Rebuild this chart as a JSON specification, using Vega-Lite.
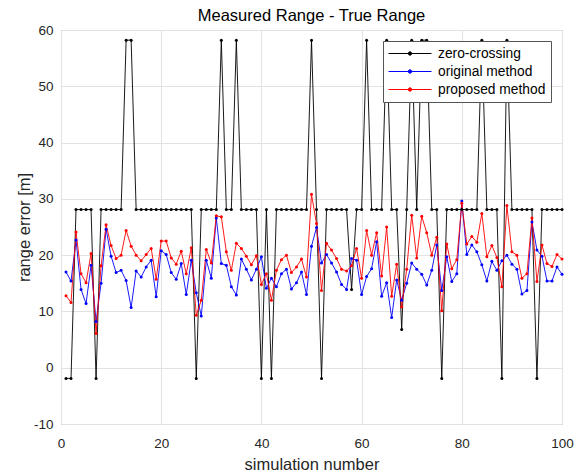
{
"$schema": "https://vega.github.io/schema/vega-lite/v6.json",
"width": 501, "height": 394,
"autosize": {"type": "none"},
"padding": {"left": 61, "top": 30, "right": 25, "bottom": 48},
"background": "white",
"title": {"text": "Measured Range - True Range", "fontSize": 16.5, "font": "Liberation Sans", "fontWeight": "normal", "color": "#000000", "offset": -1, "anchor": "middle"},
"config": {
  "font": "Liberation Sans",
  "view": {"stroke": "#868686", "strokeWidth": 1},
  "axis": {"domain": false, "ticks": false, "grid": true, "gridColor": "#e2e2e2", "gridWidth": 1, "labelFontSize": 13.5, "labelColor": "#262626", "labelFont": "Liberation Sans", "titleFont": "Liberation Sans", "titleFontSize": 16.5, "titleFontWeight": "normal", "titleColor": "#262626", "labelPadding": 8, "labelFlush": false, "labelOverlap": false, "labelBound": false, "labelExpr": "'' + datum.value"}
},
"datasets": {"rows": [
{"sim":1,"method":"zero-crossing","error":-1.9},{"sim":2,"method":"zero-crossing","error":-1.9},{"sim":3,"method":"zero-crossing","error":28.1},{"sim":4,"method":"zero-crossing","error":28.1},{"sim":5,"method":"zero-crossing","error":28.1},{"sim":6,"method":"zero-crossing","error":28.1},{"sim":7,"method":"zero-crossing","error":-1.9},{"sim":8,"method":"zero-crossing","error":28.1},{"sim":9,"method":"zero-crossing","error":28.1},{"sim":10,"method":"zero-crossing","error":28.1},
{"sim":11,"method":"zero-crossing","error":28.1},{"sim":12,"method":"zero-crossing","error":28.1},{"sim":13,"method":"zero-crossing","error":58.2},{"sim":14,"method":"zero-crossing","error":58.2},{"sim":15,"method":"zero-crossing","error":28.1},{"sim":16,"method":"zero-crossing","error":28.1},{"sim":17,"method":"zero-crossing","error":28.1},{"sim":18,"method":"zero-crossing","error":28.1},{"sim":19,"method":"zero-crossing","error":28.1},{"sim":20,"method":"zero-crossing","error":28.1},
{"sim":21,"method":"zero-crossing","error":28.1},{"sim":22,"method":"zero-crossing","error":28.1},{"sim":23,"method":"zero-crossing","error":28.1},{"sim":24,"method":"zero-crossing","error":28.1},{"sim":25,"method":"zero-crossing","error":28.1},{"sim":26,"method":"zero-crossing","error":28.1},{"sim":27,"method":"zero-crossing","error":-1.9},{"sim":28,"method":"zero-crossing","error":28.1},{"sim":29,"method":"zero-crossing","error":28.1},{"sim":30,"method":"zero-crossing","error":28.1},
{"sim":31,"method":"zero-crossing","error":28.1},{"sim":32,"method":"zero-crossing","error":58.2},{"sim":33,"method":"zero-crossing","error":28.1},{"sim":34,"method":"zero-crossing","error":28.1},{"sim":35,"method":"zero-crossing","error":58.2},{"sim":36,"method":"zero-crossing","error":28.1},{"sim":37,"method":"zero-crossing","error":28.1},{"sim":38,"method":"zero-crossing","error":28.1},{"sim":39,"method":"zero-crossing","error":28.1},{"sim":40,"method":"zero-crossing","error":-1.9},
{"sim":41,"method":"zero-crossing","error":28.1},{"sim":42,"method":"zero-crossing","error":-1.9},{"sim":43,"method":"zero-crossing","error":28.1},{"sim":44,"method":"zero-crossing","error":28.1},{"sim":45,"method":"zero-crossing","error":28.1},{"sim":46,"method":"zero-crossing","error":28.1},{"sim":47,"method":"zero-crossing","error":28.1},{"sim":48,"method":"zero-crossing","error":28.1},{"sim":49,"method":"zero-crossing","error":28.1},{"sim":50,"method":"zero-crossing","error":58.2},
{"sim":51,"method":"zero-crossing","error":28.1},{"sim":52,"method":"zero-crossing","error":-1.9},{"sim":53,"method":"zero-crossing","error":28.1},{"sim":54,"method":"zero-crossing","error":28.1},{"sim":55,"method":"zero-crossing","error":28.1},{"sim":56,"method":"zero-crossing","error":28.1},{"sim":57,"method":"zero-crossing","error":28.1},{"sim":58,"method":"zero-crossing","error":13.9},{"sim":59,"method":"zero-crossing","error":28.1},{"sim":60,"method":"zero-crossing","error":28.1},
{"sim":61,"method":"zero-crossing","error":58.2},{"sim":62,"method":"zero-crossing","error":28.1},{"sim":63,"method":"zero-crossing","error":28.1},{"sim":64,"method":"zero-crossing","error":28.1},{"sim":65,"method":"zero-crossing","error":58.2},{"sim":66,"method":"zero-crossing","error":28.1},{"sim":67,"method":"zero-crossing","error":28.1},{"sim":68,"method":"zero-crossing","error":6.8},{"sim":69,"method":"zero-crossing","error":28.1},{"sim":70,"method":"zero-crossing","error":58.2},
{"sim":71,"method":"zero-crossing","error":28.1},{"sim":72,"method":"zero-crossing","error":58.2},{"sim":73,"method":"zero-crossing","error":58.2},{"sim":74,"method":"zero-crossing","error":28.1},{"sim":75,"method":"zero-crossing","error":28.1},{"sim":76,"method":"zero-crossing","error":-1.9},{"sim":77,"method":"zero-crossing","error":28.1},{"sim":78,"method":"zero-crossing","error":28.1},{"sim":79,"method":"zero-crossing","error":28.1},{"sim":80,"method":"zero-crossing","error":28.1},
{"sim":81,"method":"zero-crossing","error":28.1},{"sim":82,"method":"zero-crossing","error":28.1},{"sim":83,"method":"zero-crossing","error":28.1},{"sim":84,"method":"zero-crossing","error":58.2},{"sim":85,"method":"zero-crossing","error":28.1},{"sim":86,"method":"zero-crossing","error":28.1},{"sim":87,"method":"zero-crossing","error":28.1},{"sim":88,"method":"zero-crossing","error":-1.9},{"sim":89,"method":"zero-crossing","error":58.2},{"sim":90,"method":"zero-crossing","error":28.1},
{"sim":91,"method":"zero-crossing","error":28.1},{"sim":92,"method":"zero-crossing","error":28.1},{"sim":93,"method":"zero-crossing","error":28.1},{"sim":94,"method":"zero-crossing","error":28.1},{"sim":95,"method":"zero-crossing","error":-1.9},{"sim":96,"method":"zero-crossing","error":28.1},{"sim":97,"method":"zero-crossing","error":28.1},{"sim":98,"method":"zero-crossing","error":28.1},{"sim":99,"method":"zero-crossing","error":28.1},{"sim":100,"method":"zero-crossing","error":28.1},
{"sim":1,"method":"original method","error":17.0},{"sim":2,"method":"original method","error":15.4},{"sim":3,"method":"original method","error":22.7},{"sim":4,"method":"original method","error":13.9},{"sim":5,"method":"original method","error":11.4},{"sim":6,"method":"original method","error":18.2},{"sim":7,"method":"original method","error":8.2},{"sim":8,"method":"original method","error":15.0},{"sim":9,"method":"original method","error":24.6},{"sim":10,"method":"original method","error":19.8},
{"sim":11,"method":"original method","error":16.9},{"sim":12,"method":"original method","error":17.3},{"sim":13,"method":"original method","error":15.5},{"sim":14,"method":"original method","error":10.7},{"sim":15,"method":"original method","error":17.2},{"sim":16,"method":"original method","error":16.1},{"sim":17,"method":"original method","error":17.9},{"sim":18,"method":"original method","error":19.1},{"sim":19,"method":"original method","error":12.6},{"sim":20,"method":"original method","error":20.8},
{"sim":21,"method":"original method","error":20.1},{"sim":22,"method":"original method","error":16.9},{"sim":23,"method":"original method","error":15.7},{"sim":24,"method":"original method","error":18.5},{"sim":25,"method":"original method","error":13.0},{"sim":26,"method":"original method","error":19.1},{"sim":27,"method":"original method","error":13.3},{"sim":28,"method":"original method","error":9.2},{"sim":29,"method":"original method","error":19.1},{"sim":30,"method":"original method","error":15.9},
{"sim":31,"method":"original method","error":26.6},{"sim":32,"method":"original method","error":18.5},{"sim":33,"method":"original method","error":18.2},{"sim":34,"method":"original method","error":14.4},{"sim":35,"method":"original method","error":12.9},{"sim":36,"method":"original method","error":19.3},{"sim":37,"method":"original method","error":17.5},{"sim":38,"method":"original method","error":15.6},{"sim":39,"method":"original method","error":17.5},{"sim":40,"method":"original method","error":19.7},
{"sim":41,"method":"original method","error":14.1},{"sim":42,"method":"original method","error":15.9},{"sim":43,"method":"original method","error":14.4},{"sim":44,"method":"original method","error":16.7},{"sim":45,"method":"original method","error":17.5},{"sim":46,"method":"original method","error":14.0},{"sim":47,"method":"original method","error":15.1},{"sim":48,"method":"original method","error":17.0},{"sim":49,"method":"original method","error":13.0},{"sim":50,"method":"original method","error":21.6},
{"sim":51,"method":"original method","error":24.9},{"sim":52,"method":"original method","error":18.6},{"sim":53,"method":"original method","error":20.1},{"sim":54,"method":"original method","error":18.6},{"sim":55,"method":"original method","error":17.0},{"sim":56,"method":"original method","error":14.8},{"sim":57,"method":"original method","error":13.9},{"sim":58,"method":"original method","error":19.4},{"sim":59,"method":"original method","error":19.1},{"sim":60,"method":"original method","error":13.0},
{"sim":61,"method":"original method","error":16.2},{"sim":62,"method":"original method","error":17.6},{"sim":63,"method":"original method","error":22.4},{"sim":64,"method":"original method","error":12.7},{"sim":65,"method":"original method","error":15.1},{"sim":66,"method":"original method","error":8.9},{"sim":67,"method":"original method","error":15.6},{"sim":68,"method":"original method","error":12.0},{"sim":69,"method":"original method","error":15.0},{"sim":70,"method":"original method","error":18.6},
{"sim":71,"method":"original method","error":17.5},{"sim":72,"method":"original method","error":16.6},{"sim":73,"method":"original method","error":14.7},{"sim":74,"method":"original method","error":17.3},{"sim":75,"method":"original method","error":21.8},{"sim":76,"method":"original method","error":13.7},{"sim":77,"method":"original method","error":19.7},{"sim":78,"method":"original method","error":15.3},{"sim":79,"method":"original method","error":16.7},{"sim":80,"method":"original method","error":29.6},
{"sim":81,"method":"original method","error":20.1},{"sim":82,"method":"original method","error":21.8},{"sim":83,"method":"original method","error":20.6},{"sim":84,"method":"original method","error":18.3},{"sim":85,"method":"original method","error":15.4},{"sim":86,"method":"original method","error":18.9},{"sim":87,"method":"original method","error":17.3},{"sim":88,"method":"original method","error":19.0},{"sim":89,"method":"original method","error":20.0},{"sim":90,"method":"original method","error":18.4},
{"sim":91,"method":"original method","error":17.5},{"sim":92,"method":"original method","error":13.1},{"sim":93,"method":"original method","error":13.7},{"sim":94,"method":"original method","error":25.9},{"sim":95,"method":"original method","error":20.9},{"sim":96,"method":"original method","error":19.8},{"sim":97,"method":"original method","error":15.4},{"sim":98,"method":"original method","error":15.4},{"sim":99,"method":"original method","error":17.9},{"sim":100,"method":"original method","error":16.6},
{"sim":1,"method":"proposed method","error":12.8},{"sim":2,"method":"proposed method","error":11.6},{"sim":3,"method":"proposed method","error":24.1},{"sim":4,"method":"proposed method","error":16.7},{"sim":5,"method":"proposed method","error":15.1},{"sim":6,"method":"proposed method","error":20.3},{"sim":7,"method":"proposed method","error":6.1},{"sim":8,"method":"proposed method","error":18.1},{"sim":9,"method":"proposed method","error":25.4},{"sim":10,"method":"proposed method","error":21.7},
{"sim":11,"method":"proposed method","error":19.4},{"sim":12,"method":"proposed method","error":20.0},{"sim":13,"method":"proposed method","error":24.4},{"sim":14,"method":"proposed method","error":21.6},{"sim":15,"method":"proposed method","error":20.0},{"sim":16,"method":"proposed method","error":19.0},{"sim":17,"method":"proposed method","error":20.1},{"sim":18,"method":"proposed method","error":21.2},{"sim":19,"method":"proposed method","error":15.7},{"sim":20,"method":"proposed method","error":22.5},
{"sim":21,"method":"proposed method","error":22.5},{"sim":22,"method":"proposed method","error":19.5},{"sim":23,"method":"proposed method","error":18.4},{"sim":24,"method":"proposed method","error":20.7},{"sim":25,"method":"proposed method","error":16.7},{"sim":26,"method":"proposed method","error":21.3},{"sim":27,"method":"proposed method","error":9.3},{"sim":28,"method":"proposed method","error":12.0},{"sim":29,"method":"proposed method","error":21.0},{"sim":30,"method":"proposed method","error":18.6},
{"sim":31,"method":"proposed method","error":27.0},{"sim":32,"method":"proposed method","error":26.8},{"sim":33,"method":"proposed method","error":20.6},{"sim":34,"method":"proposed method","error":17.3},{"sim":35,"method":"proposed method","error":22.1},{"sim":36,"method":"proposed method","error":21.2},{"sim":37,"method":"proposed method","error":19.8},{"sim":38,"method":"proposed method","error":18.3},{"sim":39,"method":"proposed method","error":19.9},{"sim":40,"method":"proposed method","error":14.8},
{"sim":41,"method":"proposed method","error":16.7},{"sim":42,"method":"proposed method","error":12.0},{"sim":43,"method":"proposed method","error":17.3},{"sim":44,"method":"proposed method","error":19.2},{"sim":45,"method":"proposed method","error":20.0},{"sim":46,"method":"proposed method","error":16.9},{"sim":47,"method":"proposed method","error":17.9},{"sim":48,"method":"proposed method","error":19.3},{"sim":49,"method":"proposed method","error":16.1},{"sim":50,"method":"proposed method","error":30.8},
{"sim":51,"method":"proposed method","error":25.6},{"sim":52,"method":"proposed method","error":13.7},{"sim":53,"method":"proposed method","error":22.1},{"sim":54,"method":"proposed method","error":20.9},{"sim":55,"method":"proposed method","error":19.4},{"sim":56,"method":"proposed method","error":17.5},{"sim":57,"method":"proposed method","error":17.2},{"sim":58,"method":"proposed method","error":18.1},{"sim":59,"method":"proposed method","error":21.2},{"sim":60,"method":"proposed method","error":15.9},
{"sim":61,"method":"proposed method","error":24.4},{"sim":62,"method":"proposed method","error":20.0},{"sim":63,"method":"proposed method","error":24.0},{"sim":64,"method":"proposed method","error":16.3},{"sim":65,"method":"proposed method","error":25.0},{"sim":66,"method":"proposed method","error":12.7},{"sim":67,"method":"proposed method","error":18.4},{"sim":68,"method":"proposed method","error":10.8},{"sim":69,"method":"proposed method","error":17.5},{"sim":70,"method":"proposed method","error":27.1},
{"sim":71,"method":"proposed method","error":19.5},{"sim":72,"method":"proposed method","error":26.9},{"sim":73,"method":"proposed method","error":24.0},{"sim":74,"method":"proposed method","error":20.0},{"sim":75,"method":"proposed method","error":23.2},{"sim":76,"method":"proposed method","error":10.1},{"sim":77,"method":"proposed method","error":22.0},{"sim":78,"method":"proposed method","error":17.6},{"sim":79,"method":"proposed method","error":19.2},{"sim":80,"method":"proposed method","error":29.2},
{"sim":81,"method":"proposed method","error":22.0},{"sim":82,"method":"proposed method","error":23.3},{"sim":83,"method":"proposed method","error":22.3},{"sim":84,"method":"proposed method","error":27.4},{"sim":85,"method":"proposed method","error":19.7},{"sim":86,"method":"proposed method","error":21.7},{"sim":87,"method":"proposed method","error":19.6},{"sim":88,"method":"proposed method","error":14.4},{"sim":89,"method":"proposed method","error":28.8},{"sim":90,"method":"proposed method","error":20.6},
{"sim":91,"method":"proposed method","error":20.0},{"sim":92,"method":"proposed method","error":15.9},{"sim":93,"method":"proposed method","error":16.7},{"sim":94,"method":"proposed method","error":26.6},{"sim":95,"method":"proposed method","error":15.3},{"sim":96,"method":"proposed method","error":21.8},{"sim":97,"method":"proposed method","error":18.5},{"sim":98,"method":"proposed method","error":18.0},{"sim":99,"method":"proposed method","error":20.1},{"sim":100,"method":"proposed method","error":19.3}
]},
"data": {"name": "rows"},
"mark": {"type": "line", "strokeWidth": 0.9, "point": {"filled": true, "size": 9}},
"encoding": {
  "x": {"field": "sim", "type": "quantitative", "scale": {"domain": [0, 100], "nice": false}, "axis": {"values": [0, 20, 40, 60, 80, 100], "title": "simulation number", "labelPadding": 12, "titlePadding": 7}},
  "y": {"field": "error", "type": "quantitative", "scale": {"domain": [-10, 60], "nice": false, "zero": false}, "axis": {"values": [-10, 0, 10, 20, 30, 40, 50, 60], "title": "range error [m]", "titlePadding": 1}},
  "color": {"field": "method", "type": "nominal",
    "scale": {"domain": ["zero-crossing", "original method", "proposed method"], "range": ["#000000", "#0000ff", "#ff0000"]},
    "legend": {"title": null, "orient": "none", "legendX": 322, "legendY": 11, "fillColor": "#ffffff", "strokeColor": "#555555", "padding": 5, "labelFontSize": 13.8, "labelColor": "#000000", "labelFont": "Liberation Sans", "symbolType": "M-1,0H1M0.08,0A0.08,0.08 0 1,1 -0.08,0A0.08,0.08 0 1,1 0.08,0Z", "symbolSize": 1849, "symbolStrokeWidth": 1, "labelOffset": 6, "rowPadding": 3, "clipHeight": 15,
      "encode": {"symbols": {"update": {"fill": {"scale": "color", "field": "value"}, "stroke": {"scale": "color", "field": "value"}}}}}
  }
}
}
